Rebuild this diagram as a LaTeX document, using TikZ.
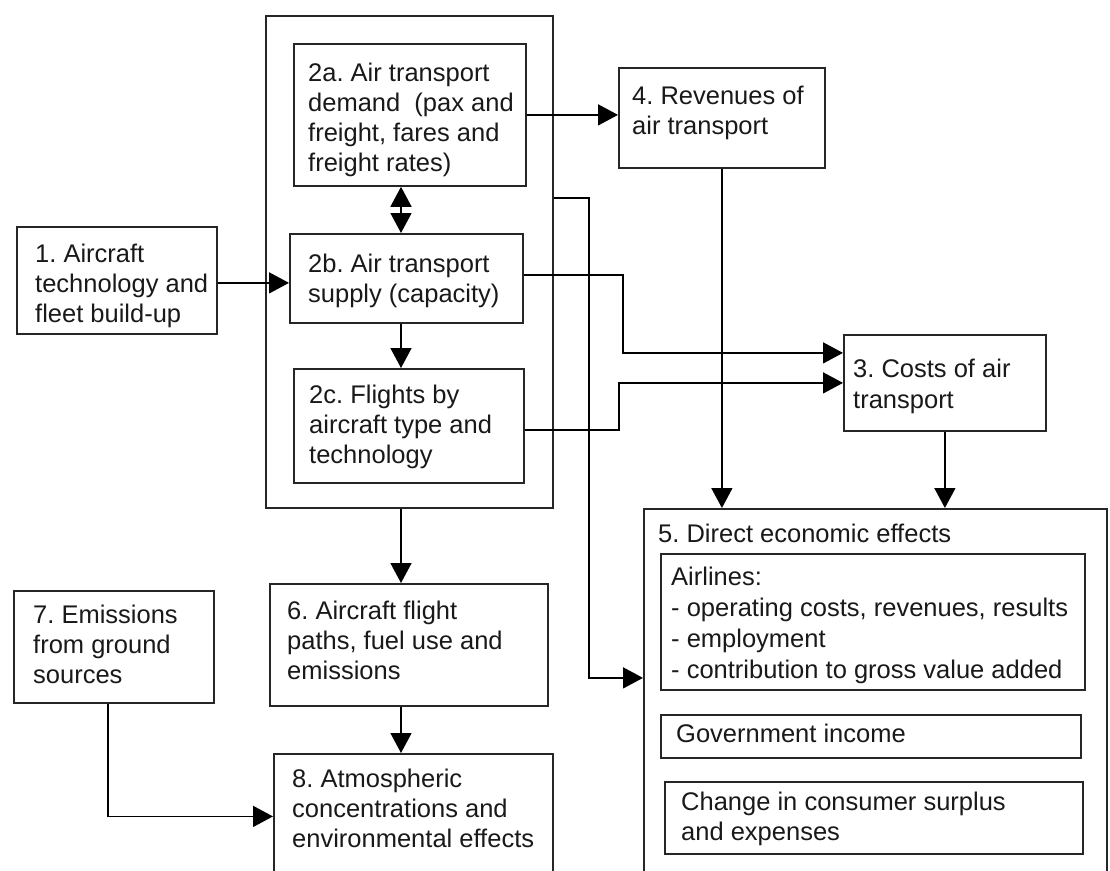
\documentclass[tikz,border=0pt]{standalone}
\usepackage{fontspec}
\setmainfont{Liberation Sans}
\usetikzlibrary{arrows.meta}
\frenchspacing
\newcommand{\boxtext}[1]{\begin{tabular}[t]{@{}l@{}}#1\end{tabular}}
\begin{document}
\begin{tikzpicture}[x=1pt,y=-1pt,
 box/.style={draw=black!85, line width=1.8pt, inner sep=0pt, anchor=north west},
 txt/.style={anchor=base west, inner sep=0pt, text=black!90, font=\fontsize{25.5}{30}\selectfont\frenchspacing},
 txtw/.style={txt, font=\fontsize{25.5}{31}\selectfont\frenchspacing},
 con/.style={draw=black, line width=1.6pt},
 arr/.style={con, -{Triangle[length=20pt,width=21pt]}}]
\useasboundingbox (0,0) rectangle (1110,870);
\fill[white] (0,0) rectangle (1110,870);
\clip (0,0) rectangle (1110,870);

% boxes
\node[box, minimum width=287pt, minimum height=492pt] (n2) at (265,15) {};
\node[box, minimum width=232pt, minimum height=142pt] (n2a) at (293,43) {};
\node[box, minimum width=233pt, minimum height=89pt] (n2b) at (289,233) {};
\node[box, minimum width=230pt, minimum height=114pt] (n2c) at (293,368) {};
\node[box, minimum width=206pt, minimum height=100pt] (n4) at (618,67) {};
\node[box, minimum width=200pt, minimum height=107pt] (n1) at (16,226) {};
\node[box, minimum width=202pt, minimum height=96pt] (n3) at (843,334) {};
\node[box, minimum width=463pt, minimum height=400pt] (n5) at (643,508) {};
\node[box, minimum width=424pt, minimum height=136pt] (nair) at (660,553) {};
\node[box, minimum width=420pt, minimum height=43pt] (ngov) at (660,714) {};
\node[box, minimum width=418pt, minimum height=72pt] (ncs) at (664,781) {};
\node[box, minimum width=278pt, minimum height=122pt] (n6) at (269,583) {};
\node[box, minimum width=200pt, minimum height=112pt] (n7) at (13,590) {};
\node[box, minimum width=279pt, minimum height=125pt] (n8) at (273,753) {};

% texts
\node[txt] (t2a) at (308,81) {\boxtext{2a. Air transport\\demand~ (pax and\\freight, fares and\\freight rates)}};
\node[txt] (t2b) at (308,272) {\boxtext{2b. Air transport\\supply (capacity)}};
\node[txt] (t2c) at (309,403) {\boxtext{2c. Flights by\\aircraft type and\\technology}};
\node[txt] (t4) at (632,104) {\boxtext{4. Revenues of\\air transport}};
\node[txt] (t1) at (35,262) {\boxtext{1. Aircraft\\technology and\\fleet build-up}};
\node[txtw] (t3) at (853,377) {\boxtext{3. Costs of air\\transport}};
\node[txt] (t5) at (658,542) {5. Direct economic effects};
\node[txtw] (tair) at (671,585) {\boxtext{Airlines:\\- operating costs, revenues, results\\- employment\\- contribution to gross value added}};
\node[txt] (tgov) at (676,742) {Government income};
\node[txt] (tcs) at (681,810) {\boxtext{Change in consumer surplus\\and expenses}};
\node[txt] (t6) at (287,619) {\boxtext{6. Aircraft flight\\paths, fuel use and\\emissions}};
\node[txt] (t7) at (33,623) {\boxtext{7. Emissions\\from ground\\sources}};
\node[txt] (t8) at (292,787) {\boxtext{8. Atmospheric\\concentrations and\\environmental effects}};

% helper coordinates
\coordinate (ax) at (401,0);
\coordinate (p1) at ([yshift=-2.5pt]n1.east);
\coordinate (p2) at ([yshift=3.5pt]n2b.east);
\coordinate (p3) at ([yshift=30pt]n3.west);
\coordinate (p4) at ([yshift=-4pt]n2c.east);
\coordinate (p5) at ([yshift=64pt]n2.east);
\coordinate (p6) at ([yshift=31pt]n5.west);
\coordinate (p7) at ([xshift=-6pt]n7.south);

% connectors
\draw[arr] (n2a.east) -- (n4.west |- n2a.east);
\draw[con, {Triangle[length=20pt,width=21pt]}-{Triangle[length=20pt,width=21pt]}] (ax |- n2a.south) -- (ax |- n2b.north);
\draw[arr] (p1) -- (p1 -| n2b.west);
\draw[arr] (ax |- n2b.south) -- (ax |- n2c.north);
\draw[arr] (p2) -- ++(99,0) |- (p3);
\draw[arr] (p4) -- ++(94,0) |- (n3.west);
\draw[arr] (p5) -- ++(35,0) |- (p6);
\draw[arr] (n4.south) -- (n4.south |- n5.north);
\draw[arr] (n3.south) -- (n3.south |- n5.north);
\draw[arr] (ax |- n2.south) -- (ax |- n6.north);
\draw[arr] (ax |- n6.south) -- (ax |- n8.north);
\draw[arr] (p7) |- (n8.west);
\end{tikzpicture}
\end{document}
